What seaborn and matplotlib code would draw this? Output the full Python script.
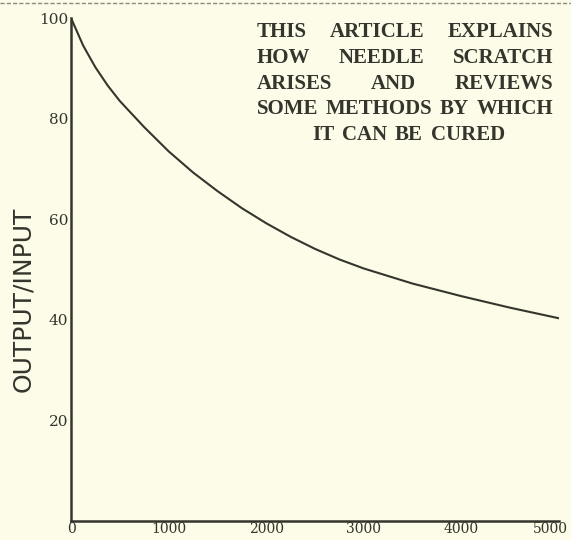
#!/usr/bin/env python3
"""
Needle scratch - output/input ratio against frequency
"""

import matplotlib
matplotlib.use("Agg")
import matplotlib.pyplot as plt
import matplotlib.transforms as mtrans
from matplotlib.lines import Line2D
import seaborn as sns

# values
distance = [0, 125, 250, 375, 500, 750, 1000, 1250, 1500, 1750, 2000, 2250, 2500,
            2750, 3000, 3500, 4000, 4500, 5000]
ratio = [100, 94.5, 90.2, 86.6, 83.5, 78.3, 73.5, 69.3, 65.6, 62.2, 59.2, 56.5, 54.1,
         52, 50.2, 47.2, 44.7, 42.4, 40.3]

x_ticks = [0, 1000, 2000, 3000, 4000, 5000]
y_ticks = [20, 40, 60, 80, 100]
y_label = "OUTPUT/INPUT"

blurb = [
    "THIS ARTICLE EXPLAINS",
    "HOW NEEDLE SCRATCH",
    "ARISES AND REVIEWS",
    "SOME METHODS BY WHICH",
    "IT CAN BE CURED",
]

PAPER = "#fcfce8"
INK = "#35352d"
W, H = 571, 540


def justify(fig, renderer, words, y, x0, x1, **kw):
    """spread words so the line fills x0..x1 (pixels)"""
    texts = [fig.text(0, y / H, w, ha="left", va="center", **kw) for w in words]
    widths = [t.get_window_extent(renderer).width for t in texts]
    gap = (x1 - x0 - sum(widths)) / max(len(words) - 1, 1)
    x = x0
    for t, w in zip(texts, widths):
        t.set_x(x / W)
        x += w + gap


def main():
    sns.set_style("white")
    plt.rcParams["font.family"] = ["DejaVu Serif", "DejaVu Sans"]

    fig = plt.figure(figsize=(W / 100, H / 100), dpi=100, facecolor=PAPER)
    ax = fig.add_axes([71 / W, 1 - 521 / H, 488 / W, 503 / H])
    ax.set_facecolor(PAPER)

    sns.lineplot(x=distance, y=ratio, ax=ax, color=INK, linewidth=1.5)

    ax.set_xlim(0, 5000)
    ax.set_ylim(0, 100)
    ax.set_xticks(x_ticks)
    ax.set_yticks(y_ticks + [0])
    ax.set_yticklabels([str(v) for v in y_ticks] + [""])
    ax.set_xticklabels([str(v) for v in x_ticks])
    ax.tick_params(axis="both", direction="in", colors=INK, width=1.2, pad=2)
    ax.tick_params(axis="x", length=7, pad=1, labelsize=10)
    ax.tick_params(axis="y", length=5, labelsize=11)

    # last x label sits a little left of its tick, as in the scan
    last = ax.get_xticklabels()[-1]
    last.set_transform(last.get_transform()
                       + mtrans.ScaledTranslation(-9 / 100, 0, fig.dpi_scale_trans))

    for side in ["top", "right"]:
        ax.spines[side].set_visible(False)
    for side in ["left", "bottom"]:
        ax.spines[side].set_color(INK)
        ax.spines[side].set_linewidth(1.8)

    fig.text(23 / W, 1 - 299 / H, y_label, rotation=90, ha="center", va="center",
             fontsize=18, color=INK, family="DejaVu Sans")

    # dashed rule along the top of the scan
    fig.add_artist(Line2D([0, 1], [1 - 3 / H, 1 - 3 / H], transform=fig.transFigure,
                          color="#8a8a80", linewidth=1, linestyle=(0, (3, 1.5))))

    renderer = fig.canvas.get_renderer()
    style = dict(fontsize=15, fontweight="bold", color=INK, family="Liberation Serif")
    line_y = [32, 58, 84, 109, 135]
    for i, (line, y) in enumerate(zip(blurb, line_y)):
        if i == len(blurb) - 1:
            justify(fig, renderer, line.split(), H - y, 312, 505, **style)
        else:
            justify(fig, renderer, line.split(), H - y, 257, 553, **style)

    fig.savefig("out.png", dpi=100, facecolor=PAPER)
    plt.close(fig)


if __name__ == "__main__":
    main()
